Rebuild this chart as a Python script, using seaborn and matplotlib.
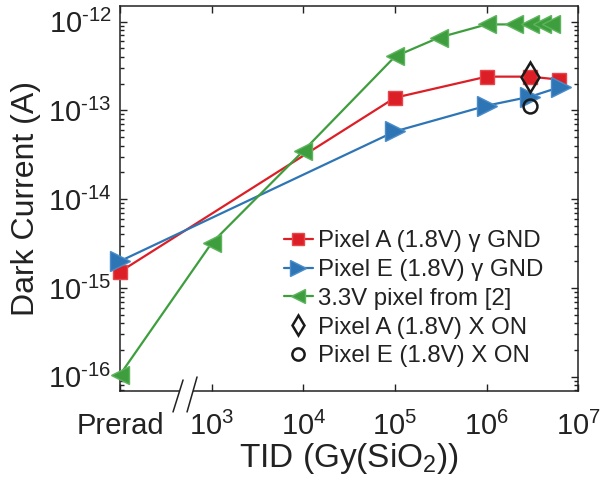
import numpy as np
import pandas as pd
import seaborn as sns
import matplotlib.pyplot as plt
from matplotlib.patches import Polygon
from matplotlib.lines import Line2D

sns.set_theme(style='ticks')
plt.rcParams['font.family'] = ['Liberation Sans', 'DejaVu Sans']
plt.rcParams['mathtext.fontset'] = 'custom'
plt.rcParams['mathtext.rm'] = 'Liberation Sans'
plt.rcParams['mathtext.it'] = 'Liberation Sans'

# Prerad is placed at the left edge (1e2)
PRERAD = 1e2

# Pixel A (1.8V) gamma GND
pixA_tid = [PRERAD, 1e5, 1e6, 3e6, 6.2e6]
pixA_cur = [1.52e-15, 1.39e-13, 2.4e-13, 2.4e-13, 2.22e-13]

# Pixel E (1.8V) gamma GND
pixE_tid = [PRERAD, 1e5, 1e6, 3e6, 6.5e6]
pixE_cur = [2.0e-15, 5.8e-14, 1.13e-13, 1.43e-13, 1.85e-13]

# 3.3V pixel from [2]
ref_tid = [PRERAD, 1e3, 1e4, 1e5, 3e5, 1e6, 2e6, 3e6, 4e6, 5e6]
ref_cur = [1.05e-16, 3.2e-15, 3.5e-14, 4.05e-13, 6.6e-13, 9.3e-13, 9.3e-13, 9.3e-13, 9.3e-13, 9.3e-13]

# X-ray ON points
xA_tid, xA_cur = [3e6], [2.4e-13]
xE_tid, xE_cur = [3e6], [1.13e-13]

xtick_vals = [1e2, 1e3, 1e4, 1e5, 1e6, 1e7]
xtick_lbls = ['Prerad', '$10^{3}$', '$10^{4}$', '$10^{5}$', '$10^{6}$', '$10^{7}$']
ytick_vals = [1e-16, 1e-15, 1e-14, 1e-13, 1e-12]
ytick_lbls = ['$10^{\\text{-}16}$', '$10^{\\text{-}15}$', '$10^{\\text{-}14}$',
              '$10^{\\text{-}13}$', '$10^{\\text{-}12}$']

RED = '#dc1f26'
BLUE = '#2e75b6'
GREEN = '#3e9e3e'
INK = '#222222'

fig = plt.figure(figsize=(6.02, 4.91), dpi=100)
ax = fig.add_axes([0.1993, 0.2037, 0.7615, 0.7841])

sns.lineplot(x=pixA_tid, y=pixA_cur, ax=ax, color=RED, lw=1.6, marker='s',
             markersize=10, markeredgecolor='#e8464c', markeredgewidth=1,
             clip_on=False, zorder=3, label='Pixel A (1.8V) \u03b3 GND')
sns.lineplot(x=pixE_tid, y=pixE_cur, ax=ax, color=BLUE, lw=1.6, marker='>',
             markersize=14, markeredgecolor='#4a8cc8', markeredgewidth=1,
             clip_on=False, zorder=3, label='Pixel E (1.8V) \u03b3 GND')
sns.lineplot(x=ref_tid, y=ref_cur, ax=ax, color=GREEN, lw=1.6, marker='<',
             markersize=13, markeredgecolor='#5cb45c', markeredgewidth=1,
             clip_on=False, zorder=4, label='3.3V pixel from [2]')
ax.plot(xA_tid, xA_cur, ls='none', marker='d', markersize=15,
        markerfacecolor='none', markeredgecolor='k', markeredgewidth=1.8,
        zorder=5)
ax.plot(xE_tid, xE_cur, ls='none', marker='o', markersize=10,
        markerfacecolor='none', markeredgecolor='k', markeredgewidth=1.8,
        zorder=5)

ax.set_xscale('log')
ax.set_yscale('log')
ax.set_xlim(1e2, 1e7)
ax.set_ylim(6.9e-17, 1.5e-12)

ax.set_xticks(xtick_vals)
ax.set_xticklabels(xtick_lbls)
ax.set_yticks(ytick_vals)
ax.set_yticklabels(ytick_lbls)

ax.tick_params(which='both', direction='in', top=True, right=True,
               colors=INK, labelsize=21, width=1)
ax.tick_params(which='major', length=5)
ax.tick_params(axis='x', which='major', pad=15)
ax.tick_params(axis='y', which='major', pad=6)
ax.tick_params(which='minor', length=3)
for s in ax.spines.values():
    s.set_linewidth(1.1)
    s.set_color(INK)

ax.set_xlabel('TID (Gy(SiO$_2$))', fontsize=24, color=INK, labelpad=0)
ax.set_ylabel('Dark Current (A)', fontsize=23, color=INK, labelpad=5)

# axis break mark
gap = Polygon([[0.128, -0.012], [0.160, -0.012], [0.160, 0.015], [0.128, 0.015]],
              closed=True, transform=ax.transAxes, facecolor='white',
              edgecolor='none', clip_on=False, zorder=6)
ax.add_patch(gap)
for x0, x1, y1 in [(0.1157, 0.1376, 0.0286), (0.1463, 0.1681, 0.0364)]:
    ax.add_line(Line2D([x0, x1], [-0.0545, y1], transform=ax.transAxes,
                       color=INK, lw=1.1, clip_on=False, zorder=7))

handles, labels = ax.get_legend_handles_labels()
handles += [Line2D([], [], ls='none', marker='d', markersize=13,
                   markerfacecolor='none', markeredgecolor='k', markeredgewidth=1.8),
            Line2D([], [], ls='none', marker='o', markersize=11,
                   markerfacecolor='none', markeredgecolor='k', markeredgewidth=1.8)]
labels += ['Pixel A (1.8V) X ON', 'Pixel E (1.8V) X ON']
ax.legend(handles, labels, loc='upper left', bbox_to_anchor=(0.337, 0.442),
          frameon=False, fontsize=17.3, handlelength=1.2, handletextpad=0.2,
          labelspacing=0.28, borderaxespad=0, markerscale=0.8, labelcolor=INK)

fig.savefig('out.png', dpi=100)
